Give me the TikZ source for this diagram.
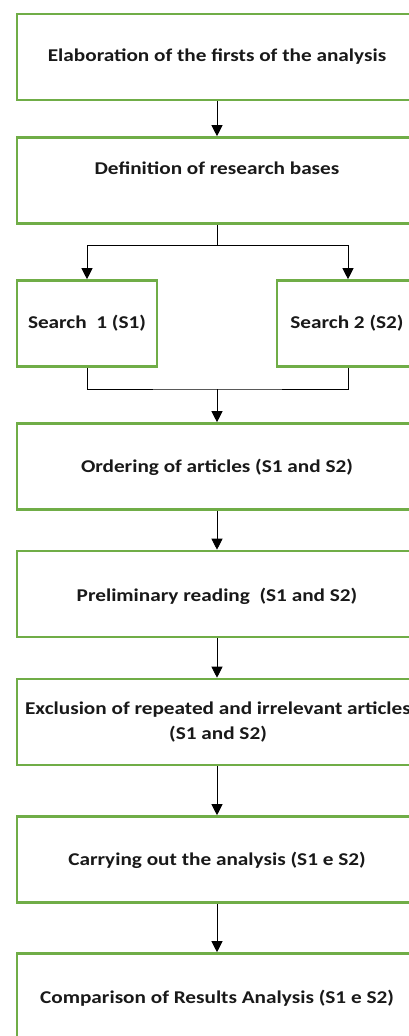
\documentclass[tikz,border=0pt]{standalone}
\usepackage{fontspec}
\setmainfont{Carlito}[FakeStretch=1.18]
\usepackage{xcolor}
\usetikzlibrary{arrows.meta,positioning}
\definecolor{boxgreen}{RGB}{112,173,71}
\definecolor{inkgray}{RGB}{25,25,25}
\tikzset{
  stepbox/.style={draw=boxgreen,line width=2.6pt,fill=white,minimum width=400pt,minimum height=86pt,inner sep=0pt},
  searchbox/.style={stepbox,minimum width=140pt},
  steptext/.style={font=\fontsize{18}{25}\selectfont\bfseries,text=inkgray,align=center,inner sep=0pt},
  flowarrow/.style={-{Triangle[length=11pt,width=11pt]},line width=0.9pt,draw=black},
  flowline/.style={line width=0.9pt,draw=black}
}

\begin{document}
\begin{tikzpicture}[x=1pt,y=-1pt]
  \useasboundingbox (0,0) rectangle (409,1036);
  \clip (0,0) rectangle (409,1036);
  % boxes
  \node[stepbox] (b1) at (217,57) {};
  \node[stepbox] (b2) at (217,180.5) {};
  \node[searchbox] (s1) at (87,323.5) {};
  \node[searchbox,minimum width=142pt] (s2) at (348,323.5) {};
  \node[stepbox] (b3) at (217,466.5) {};
  \node[stepbox] (b4) at (217,594) {};
  \node[stepbox] (b5) at (217,722) {};
  \node[stepbox] (b6) at (217,859.5) {};
  \node[stepbox] (b7) at (217,996.5) {};
  % texts
  \node[steptext] (t1) at (217,57) {Elaboration of the firsts of the analysis};
  \node[steptext] (t2) at (217,168) {Definition of research bases};
  \node[steptext] (ts1) at (87,323) {Search\ \ 1 (S1)};
  \node[steptext] (ts2) at (347,323) {Search 2 (S2)};
  \node[steptext] (t3) at (217,467) {Ordering of articles (S1 and S2)};
  \node[steptext] (t4) at (217,596) {Preliminary reading\ \ (S1 and S2)};
  \node[steptext] (t5) at (218,722) {Exclusion of repeated and irrelevant articles\\(S1 and S2)};
  \node[steptext] (t6) at (217,860) {Carrying out the analysis (S1 e S2)};
  \node[steptext] (t7) at (217,998) {Comparison of Results Analysis (S1 e S2)};
  % connectors
  \coordinate (split) at (217,245);
  \coordinate (join) at (217,389);
  \draw[flowarrow] (b1) -- (b2);
  \draw[flowline] (b2.south) -- (split);
  \draw[flowarrow] (split) -| (s1.north);
  \draw[flowarrow] (split) -| (s2.north);
  \draw[flowline] (s1.south) |- (join) -| (s2.south);
  \draw[flowarrow] (join) -- (b3.north);
  \draw[flowarrow] (b3) -- (b4);
  \draw[flowarrow] (b4) -- (b5);
  \draw[flowarrow] (b5) -- (b6);
  \draw[flowarrow] (b6) -- (b7);
\end{tikzpicture}
\end{document}
